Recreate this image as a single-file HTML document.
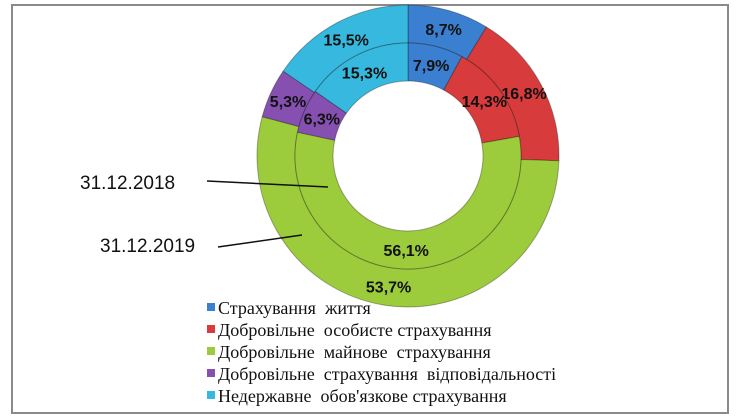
<!DOCTYPE html>
<html><head><meta charset="utf-8"><style>
body{margin:0;background:#fff;width:740px;height:420px;overflow:hidden}
svg{display:block}
</style></head><body>
<svg id="c" width="740" height="420">
<rect x="12" y="5" width="716" height="408" fill="none" stroke="#8a8a8a" stroke-width="2"/>
<g id="rings"></g>
<text x="80" y="189" font-family="Liberation Sans, sans-serif" font-size="19" fill="#111">31.12.2018</text>
<line x1="207" y1="181" x2="328" y2="187" stroke="#111" stroke-width="1.5"/>
<text x="100" y="252" font-family="Liberation Sans, sans-serif" font-size="19" fill="#111">31.12.2019</text>
<line x1="218" y1="247" x2="302" y2="235" stroke="#111" stroke-width="1.5"/>
<g id="legend"></g>
</svg>
<script>
const categories=["Страхування  життя","Добровільне  особисте страхування","Добровільне  майнове  страхування","Добровільне  страхування  відповідальності","Недержавне  обов'язкове страхування"];
const values2018=[7.9,14.3,56.1,6.3,15.3];
const values2019=[8.7,16.8,53.7,5.3,15.5];
const colors=["#3b7fd0","#d83b3b","#9ccb3c","#8550b0","#37b8de"];
const NS="http://www.w3.org/2000/svg";
const cx=408,cy=156;
const g=document.getElementById('rings');
function pt(r,a){return [cx+r*Math.sin(a),cy-r*Math.cos(a)];}
function ring(vals,r0,r1,name){
  const tot=vals.reduce((a,b)=>a+b,0);let a=0;
  vals.forEach((v,i)=>{
    const a1=a+v/tot*2*Math.PI;
    const p1=pt(r1,a),p2=pt(r1,a1),p3=pt(r0,a1),p4=pt(r0,a);
    const lg=(a1-a)>Math.PI?1:0;
    const p=document.createElementNS(NS,'path');
    p.setAttribute('d',`M${p1}A${r1},${r1} 0 ${lg} 1 ${p2}L${p3}A${r0},${r0} 0 ${lg} 0 ${p4}Z`);
    p.setAttribute('fill',colors[i]);p.setAttribute('stroke','rgba(0,0,0,0.3)');p.setAttribute('stroke-width','1');
    
    
    g.appendChild(p);
    const m=(a+a1)/2,lp=pt((r0+r1)/2,m);
    const t=document.createElementNS(NS,'text');
    t.setAttribute('x',lp[0]);t.setAttribute('y',lp[1]+6);t.setAttribute('text-anchor','middle');
    t.setAttribute('font-family','Liberation Sans, sans-serif');t.setAttribute('font-size','16');t.setAttribute('font-weight','bold');t.setAttribute('fill','#111');
    t.textContent=v.toFixed(1).replace('.',',')+'%';
    
    
    g.appendChild(t);
    a=a1;
  });
}
ring(values2019,113,151,'outer-2019');
ring(values2018,75,113,'inner-2018');
const lg=document.getElementById('legend');
categories.forEach((c,i)=>{
  const y=314+i*22;
  const r=document.createElementNS(NS,'rect');
  r.setAttribute('x',207);r.setAttribute('y',y-11);r.setAttribute('width',8);r.setAttribute('height',8);r.setAttribute('fill',colors[i]);
  
  
  lg.appendChild(r);
  const t=document.createElementNS(NS,'text');
  t.setAttribute('x',218);t.setAttribute('y',y);t.setAttribute('font-family','Liberation Serif, serif');t.setAttribute('font-size','18');t.setAttribute('fill','#111');
  t.setAttribute('style','white-space:pre');
  t.textContent=c;
  
  
  lg.appendChild(t);
});
</script>
</body></html>
